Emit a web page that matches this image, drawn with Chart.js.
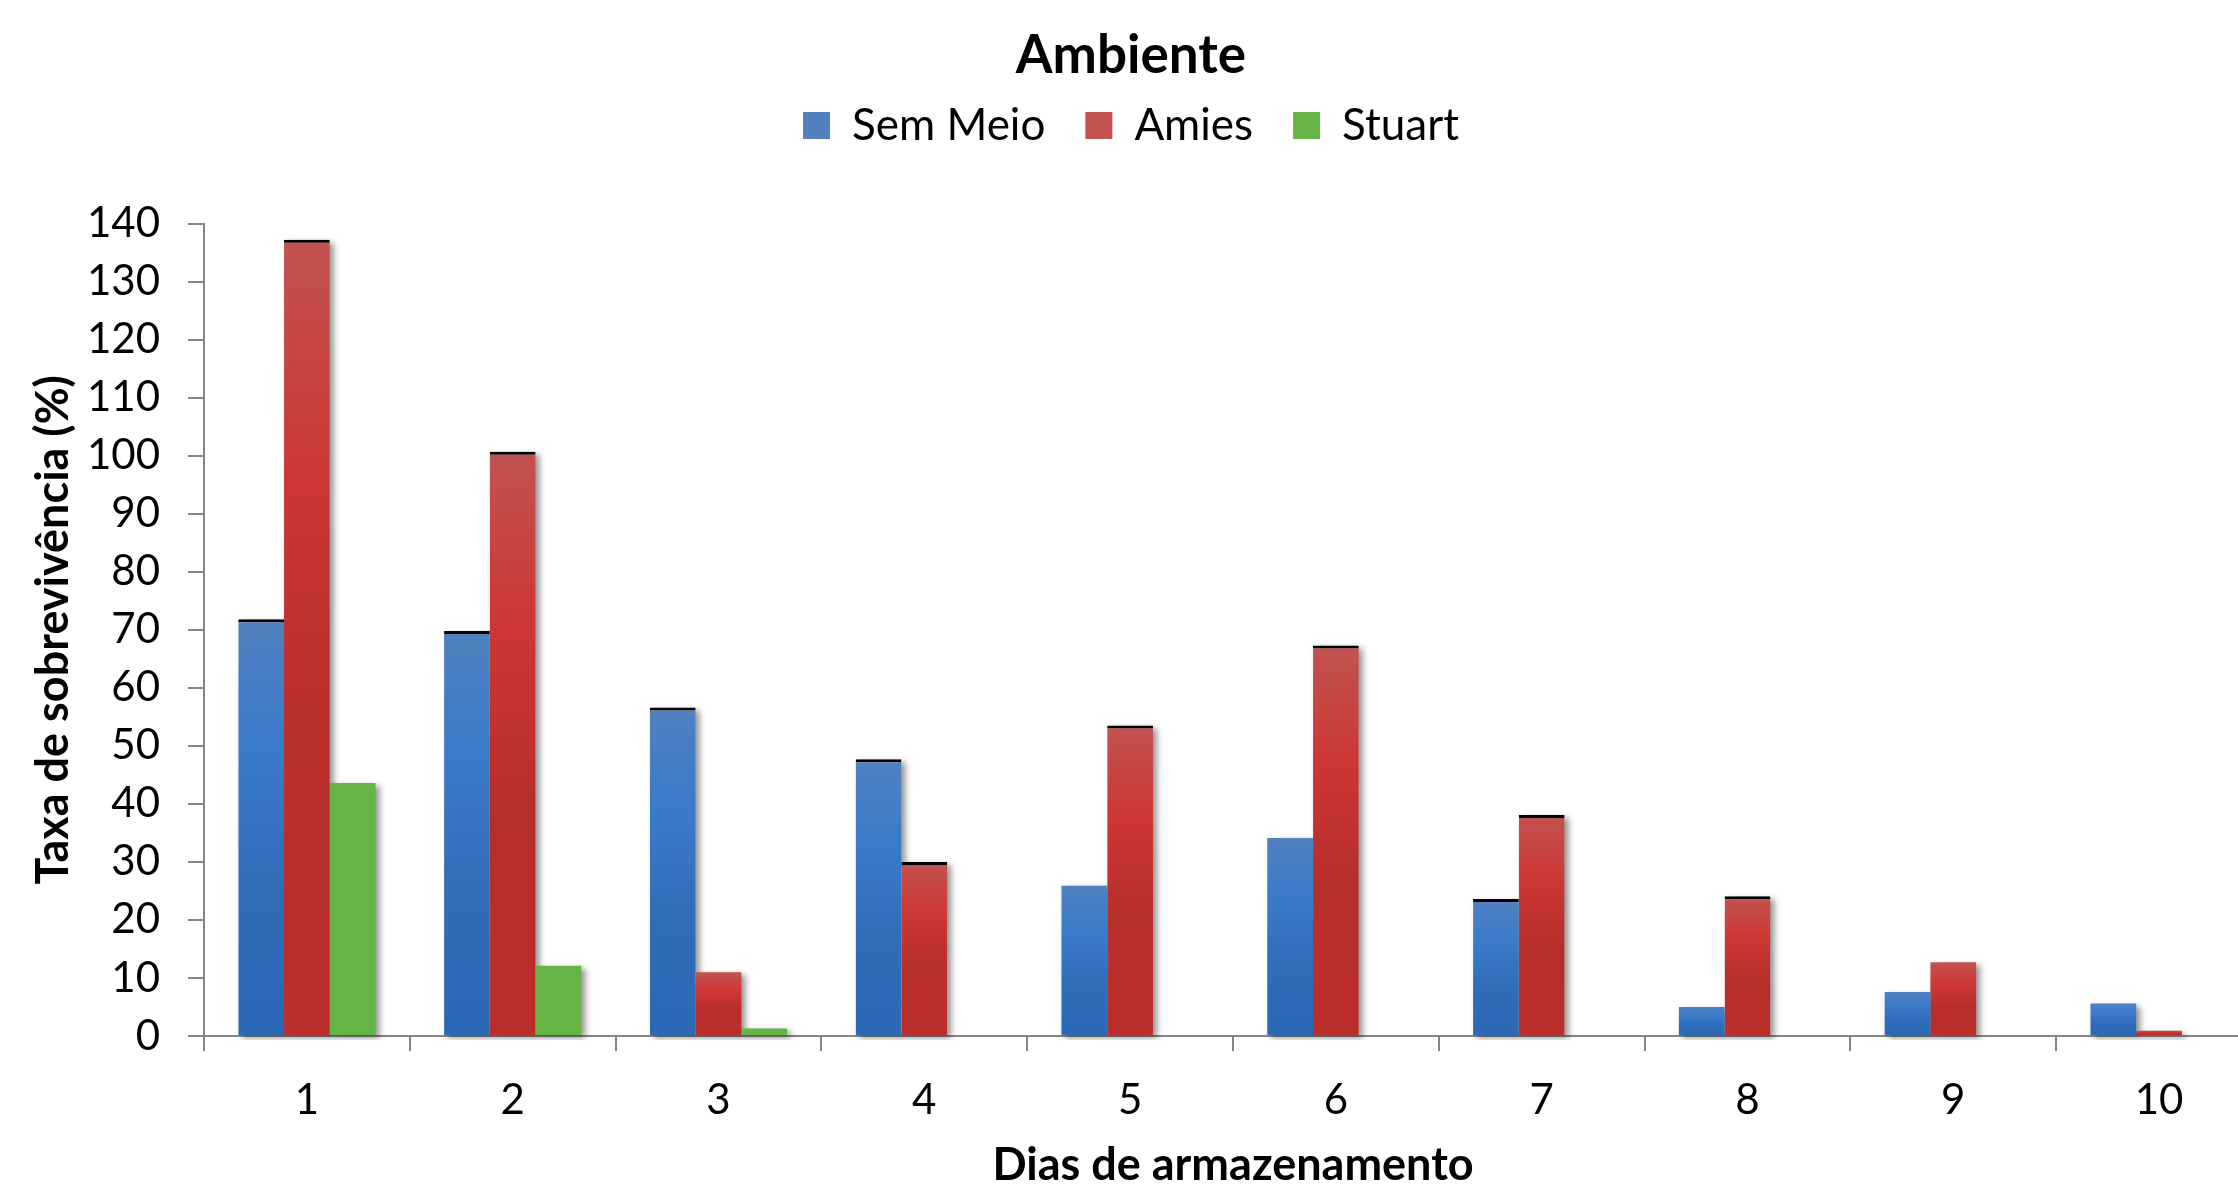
<!DOCTYPE html>
<html lang="pt">
<head>
<meta charset="utf-8">
<title>Ambiente</title>
<script src="https://cdn.jsdelivr.net/npm/chart.js@4/dist/chart.umd.min.js"></script>
<style>
  html, body { margin: 0; padding: 0; background: #ffffff; overflow: hidden; }
  #wrap { width: 2270px; height: 1185px; }
</style>
</head>
<body>
<div id="wrap"><canvas id="chart" width="2270" height="1185"></canvas></div>
<script>
// Storage days and survival rate (%) per medium
const dias = ['1', '2', '3', '4', '5', '6', '7', '8', '9', '10'];
const semMeio = [71.8, 69.8, 56.6, 47.7, 25.9, 34.1, 23.6, 5.0, 7.6, 5.6];
const amies   = [137.2, 100.7, 11.0, 30.0, 53.5, 67.3, 38.1, 24.1, 12.7, 0.9];
const stuart  = [43.6, 12.1, 1.3, 0, 0, 0, 0, 0, 0, 0];
const yTicks  = [0, 10, 20, 30, 40, 50, 60, 70, 80, 90, 100, 110, 120, 130, 140];

// bars that carry a black cap line on top (by day index)
const capSemMeio = [0, 1, 2, 3, 6];
const capAmies = [0, 1, 3, 4, 5, 6, 7];

const FONT = 'Lato, "Open Sans", "Liberation Sans", sans-serif';
const AXIS = '#868686';

// vertical gradient spanning each bar from its top down to zero
function barFill(stops, flat) {
  return (ctx) => {
    if (ctx.type !== 'data') return flat;
    const chart = ctx.chart;
    const y = chart.scales && chart.scales.y;
    if (!chart.chartArea || !y) return flat;
    const top = y.getPixelForValue(ctx.raw);
    const base = y.getPixelForValue(0);
    if (!isFinite(top) || !isFinite(base) || base - top < 1) return flat;
    const g = chart.ctx.createLinearGradient(0, top, 0, base);
    stops.forEach(([o, c]) => g.addColorStop(o, c));
    return g;
  };
}

function capWidth(list) {
  return (ctx) => (ctx.type === 'data' && list.includes(ctx.dataIndex))
    ? { top: 3, left: 0, right: 0, bottom: 0 } : 0;
}

const blueStops = [[0, '#5181bf'], [0.3, '#3a7bcb'], [0.65, '#2f6db8'], [1, '#2b68b6']];
const redStops  = [[0, '#c25350'], [0.3, '#cd3733'], [0.6, '#b82e2b'], [1, '#bb2d2a']];

// soft drop shadow behind every bar, drawn before the bars themselves
const barShadow = {
  id: 'barShadow',
  beforeDatasetsDraw(chart) {
    const ctx = chart.ctx;
    const area = chart.chartArea;
    ctx.save();
    ctx.beginPath();
    ctx.rect(area.left, area.top - 10, area.right - area.left + 20, area.bottom - area.top + 14);
    ctx.clip();
    ctx.filter = 'blur(3px)';
    ctx.fillStyle = 'rgba(0,0,0,0.42)';
    chart.data.datasets.forEach((ds, i) => {
      const meta = chart.getDatasetMeta(i);
      meta.data.forEach((el) => {
        const p = el.getProps(['x', 'y', 'base', 'width'], true);
        const h = p.base - p.y;
        if (h < 1) return;
        ctx.fillRect(p.x - p.width / 2 + 4, p.y + 3, p.width, h);
      });
    });
    ctx.restore();
  }
};

// empty band between the legend and the plot area
const legendGap = {
  id: 'legendGap',
  beforeInit(chart) {
    const box = {
      position: 'top',
      weight: 0,
      fullSize: true,
      options: {},
      isHorizontal() { return true; },
      update(maxWidth) { this.width = maxWidth; this.height = 66; },
      draw() {}
    };
    Chart.layouts.addBox(chart, box);
  }
};

Chart.defaults.color = '#000000';
Chart.defaults.font.family = FONT;

new Chart(document.getElementById('chart'), {
  type: 'bar',
  data: {
    labels: dias,
    datasets: [
      {
        label: 'Sem Meio',
        data: semMeio,
        backgroundColor: barFill(blueStops, '#3a78c6'),
        borderColor: '#000000',
        borderWidth: capWidth(capSemMeio),
        borderSkipped: 'start'
      },
      {
        label: 'Amies',
        data: amies,
        backgroundColor: barFill(redStops, '#c93531'),
        borderColor: '#000000',
        borderWidth: capWidth(capAmies),
        borderSkipped: 'start'
      },
      {
        label: 'Stuart',
        data: stuart,
        backgroundColor: '#66b446',
        borderWidth: 0
      }
    ]
  },
  options: {
    responsive: false,
    animation: false,
    devicePixelRatio: 1,
    categoryPercentage: 0.667,
    barPercentage: 1.0,
    layout: { padding: { top: 0, right: 8, bottom: 0, left: 0 } },
    plugins: {
      title: {
        display: true,
        text: 'Ambiente',
        color: '#000000',
        font: { family: FONT, size: 53, weight: 'bold', lineHeight: 1.2 },
        padding: { top: 24, bottom: -24 }
      },
      legend: {
        display: true,
        position: 'top',
        labels: {
          color: '#000000',
          font: { family: FONT, size: 44 },
          boxWidth: 27,
          boxHeight: 27,
          padding: 40,
          generateLabels(chart) {
            const items = Chart.defaults.plugins.legend.labels.generateLabels(chart);
            items.forEach((it) => { it.lineWidth = 0; it.strokeStyle = 'rgba(0,0,0,0)'; });
            return items;
          }
        }
      },
      tooltip: { enabled: false }
    },
    scales: {
      x: {
        grid: {
          display: true,
          offset: true,
          drawOnChartArea: false,
          drawTicks: true,
          tickLength: 15,
          color: AXIS,
          lineWidth: 2
        },
        border: { display: true, color: AXIS, width: 2 },
        ticks: {
          color: '#000000',
          font: { family: FONT, size: 42 },
          padding: 24,
          maxRotation: 0
        },
        title: {
          display: true,
          text: 'Dias de armazenamento',
          color: '#000000',
          font: { family: FONT, size: 45, weight: 'bold', lineHeight: 1.0 },
          padding: { top: 0, bottom: -3 }
        },
        afterFit(scale) { scale.height = 149; }
      },
      y: {
        min: 0,
        max: 140,
        afterBuildTicks(scale) { scale.ticks = yTicks.map((v) => ({ value: v })); },
        grid: {
          display: true,
          drawOnChartArea: false,
          drawTicks: true,
          tickLength: 16,
          color: AXIS,
          lineWidth: 2
        },
        border: { display: true, color: AXIS, width: 2 },
        ticks: {
          color: '#000000',
          font: { family: FONT, size: 42 },
          padding: 28
        },
        title: {
          display: true,
          text: 'Taxa de sobrevivência (%)',
          color: '#000000',
          font: { family: FONT, size: 45, weight: 'bold', lineHeight: 1.2 },
          padding: { top: 26, bottom: 0 }
        },
        afterFit(scale) { scale.width = 204; }
      }
    }
  },
  plugins: [barShadow, legendGap]
});
</script>
</body>
</html>
